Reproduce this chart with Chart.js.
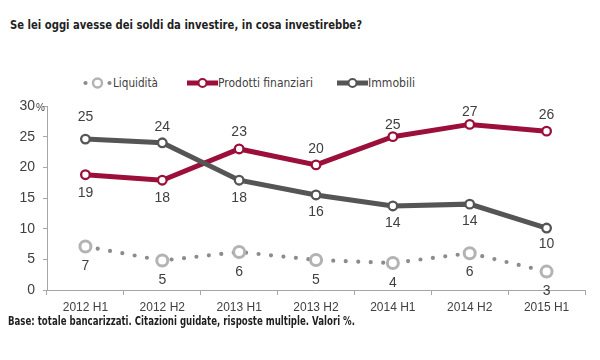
<!DOCTYPE html>
<html>
<head>
<meta charset="utf-8">
<script src="https://cdn.jsdelivr.net/npm/chart.js@4.4.0/dist/chart.umd.min.js"></script>
<style>
  body { margin: 0; background: #fff; }
  #wrap { position: relative; width: 600px; height: 360px; overflow: hidden;
          font-family: "DejaVu Sans", sans-serif; color: #1f1f1f; }
  .txt { position: absolute; display: inline-block; white-space: nowrap; transform-origin: left center; }
  #title { left: 10px; top: 17px; font-size: 13px; font-weight: bold; }
  #foot { left: 8px; top: 314px; font-size: 11.5px; font-weight: bold; }
  .legtxt { top: 75px; font-size: 13px; color: #404040; line-height: 16px; }
  .legicon { position: absolute; top: 76px; }
  canvas { position: absolute; left: 0; top: 0; }
</style>
</head>
<body>
<div id="wrap">
  <span class="txt" id="title" data-w="352">Se lei oggi avesse dei soldi da investire, in cosa investirebbe?</span>

  <svg class="legicon" style="left:82px" width="31" height="14"><circle cx="3.5" cy="7" r="2.1" fill="#8c8c8c"/><circle cx="15.5" cy="7" r="4.5" fill="#fff" stroke="#b3b3b3" stroke-width="2.5"/><circle cx="27.5" cy="7" r="2.1" fill="#8c8c8c"/></svg>
  <span class="txt legtxt" style="left:113px" data-w="45">Liquidità</span>

  <svg class="legicon" style="left:187px" width="31" height="14"><line x1="0" y1="7" x2="31" y2="7" stroke="#9b0f3a" stroke-width="5"/><circle cx="15.5" cy="7" r="4" fill="#fff" stroke="#9b0f3a" stroke-width="2"/></svg>
  <span class="txt legtxt" style="left:218px" data-w="95">Prodotti finanziari</span>

  <svg class="legicon" style="left:337px" width="31" height="14"><line x1="0" y1="7" x2="31" y2="7" stroke="#555555" stroke-width="5"/><circle cx="15.5" cy="7" r="4" fill="#fff" stroke="#555555" stroke-width="2"/></svg>
  <span class="txt legtxt" style="left:368px" data-w="47">Immobili</span>

  <canvas id="myChart" width="600" height="360"></canvas>

  <span class="txt" id="foot" data-w="347">Base: totale bancarizzati. Citazioni guidate, risposte multiple. Valori %.</span>
</div>

<script>
/* DATA */
const categories = ['2012 H1', '2012 H2', '2013 H1', '2013 H2', '2014 H1', '2014 H2', '2015 H1'];
const liquidita = [7.1, 4.8, 6.2, 4.9, 4.4, 6.0, 3.0];
const prodotti = [18.8, 17.9, 23.0, 20.4, 25.0, 27.0, 25.9];
const immobili = [24.6, 24.0, 17.9, 15.5, 13.7, 14.0, 10.1];
const yTicks = [0, 5, 10, 15, 20, 25, 30];

/* label offsets (px) from each point, negative = above */
const liqOffset = [20, 20, 20, 20, 20, 19, 20];
const prodOffset = [18, 18, -17, -16, -12, -12, -16];
const immOffset = [-22, -16, 18, 17, 17, 17, 16];

const fontFamily = '"Liberation Sans", Arial, sans-serif';
const axisColor = '#a6a6a6';
const textColor = '#404040';

/* squeeze the html texts to the widths of the reference */
document.querySelectorAll('[data-w]').forEach(function (el) {
  const w = el.getBoundingClientRect().width;
  el.style.transform = 'scaleX(' + (el.dataset.w / w) + ')';
});

/* value labels next to points + the small % on the top tick */
const valueLabels = {
  id: 'valueLabels',
  afterDatasetsDraw(chart) {
    const ctx = chart.ctx;
    ctx.save();
    ctx.font = '14px ' + fontFamily;
    ctx.fillStyle = textColor;
    ctx.textAlign = 'center';
    ctx.textBaseline = 'middle';
    chart.data.datasets.forEach(function (ds, di) {
      const meta = chart.getDatasetMeta(di);
      meta.data.forEach(function (pt, i) {
        ctx.fillText(Math.round(ds.data[i]), pt.x, pt.y + ds.labelOffset[i]);
      });
    });
    const y = chart.scales.y;
    ctx.font = '10px ' + fontFamily;
    ctx.textAlign = 'left';
    ctx.fillText('%', y.right - 11, y.getPixelForValue(30) + 2);
    ctx.restore();
  }
};

const ctx = document.getElementById('myChart');

new Chart(ctx, {
  type: 'line',
  data: {
    labels: categories,
    datasets: [
      {
        label: 'Liquidità',
        data: liquidita,
        labelOffset: liqOffset,
        order: 0,
        borderColor: '#8c8c8c',
        borderWidth: 4.2,
        borderDash: [0, 12.5],
        borderCapStyle: 'round',
        pointRadius: 5.5,
        pointBorderWidth: 3,
        pointBorderColor: '#b3b3b3',
        pointBackgroundColor: '#ffffff',
        tension: 0
      },
      {
        label: 'Prodotti finanziari',
        data: prodotti,
        labelOffset: prodOffset,
        order: 2,
        borderColor: '#9b0f3a',
        borderWidth: 5,
        pointRadius: 4.3,
        pointBorderWidth: 2.3,
        pointBorderColor: '#9b0f3a',
        pointBackgroundColor: '#ffffff',
        tension: 0
      },
      {
        label: 'Immobili',
        data: immobili,
        labelOffset: immOffset,
        order: 1,
        borderColor: '#555555',
        borderWidth: 5,
        pointRadius: 4.3,
        pointBorderWidth: 2.3,
        pointBorderColor: '#555555',
        pointBackgroundColor: '#ffffff',
        tension: 0
      }
    ]
  },
  options: {
    responsive: false,
    animation: false,
    layout: { padding: { top: 106, right: 15, bottom: 45, left: 0 } },
    plugins: {
      legend: { display: false },
      tooltip: { enabled: false }
    },
    scales: {
      x: {
        offset: true,
        grid: { offset: true, drawOnChartArea: false, tickLength: 5, color: axisColor },
        border: { color: axisColor },
        ticks: { color: textColor, font: { family: fontFamily, size: 12 }, padding: 5, maxRotation: 0 },
        afterFit: function (scale) { scale.height = 25; }
      },
      y: {
        min: 0,
        max: 30,
        afterBuildTicks: function (scale) { scale.ticks = yTicks.map(v => ({ value: v })); },
        grid: { drawOnChartArea: false, tickLength: 4, color: axisColor },
        border: { color: axisColor },
        ticks: { color: textColor, font: { family: fontFamily, size: 14 }, padding: 8 },
        afterFit: function (scale) { scale.width = 47; }
      }
    }
  },
  plugins: [valueLabels]
});
</script>
</body>
</html>
